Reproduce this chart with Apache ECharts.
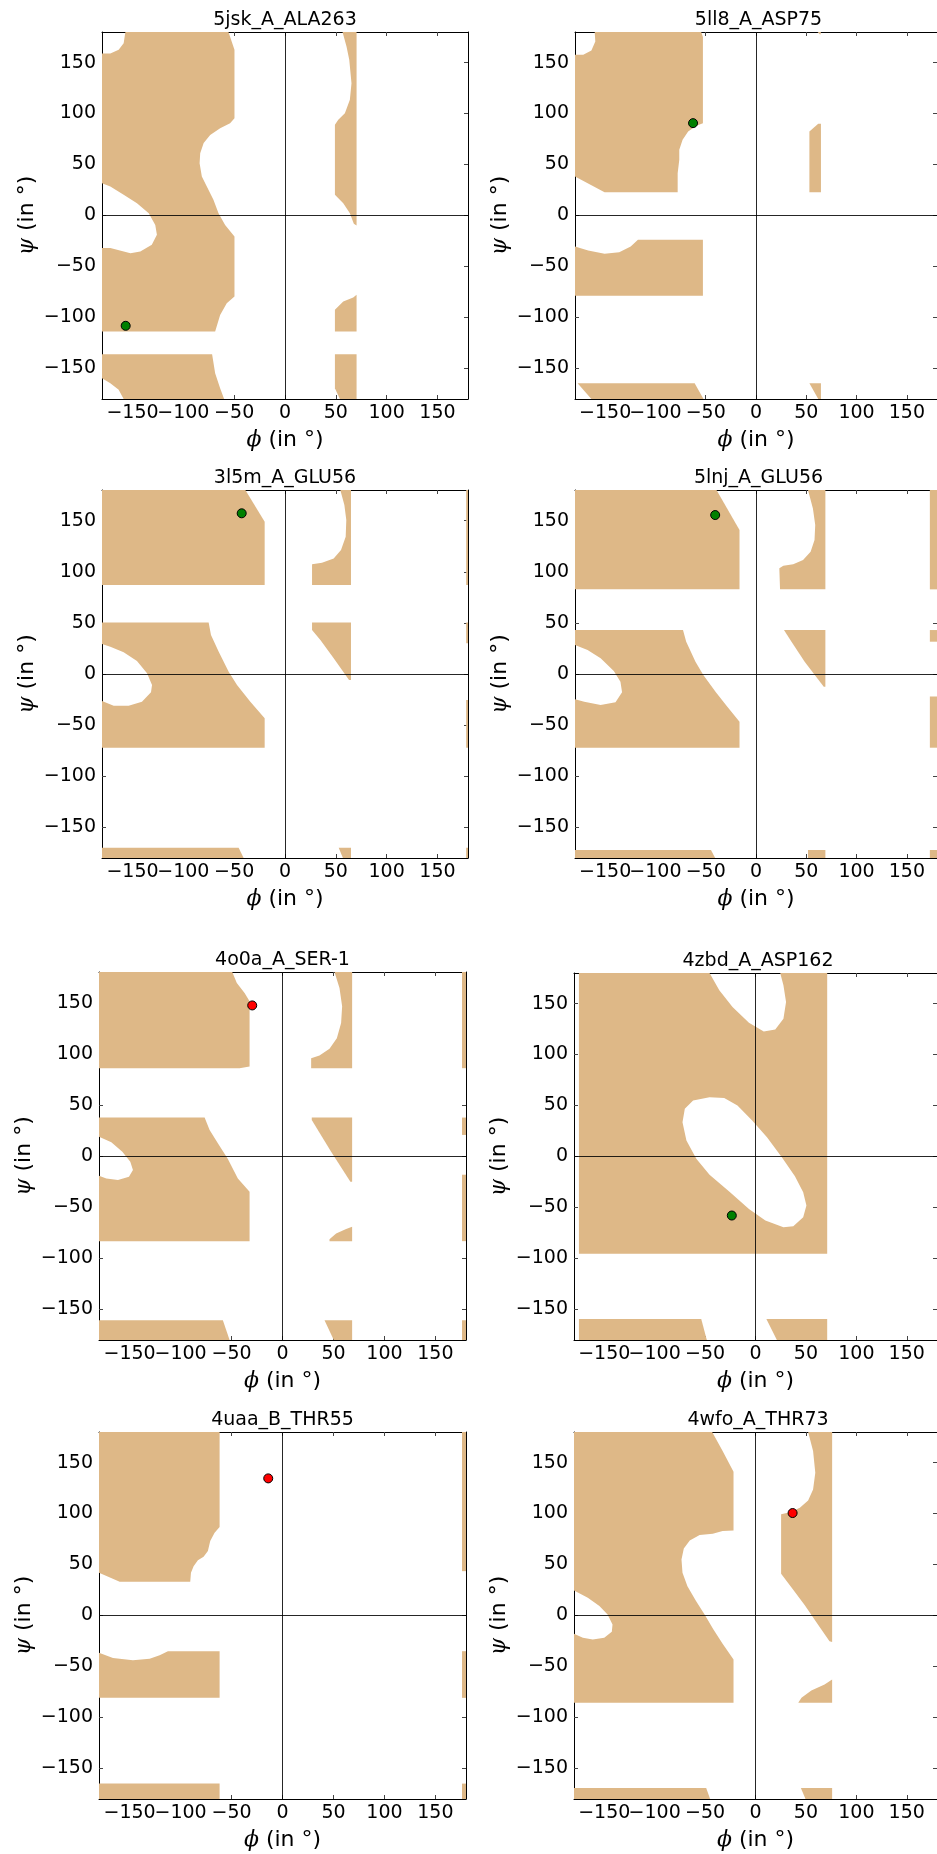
<!DOCTYPE html>
<html><head><meta charset="utf-8">
<script src="https://cdn.jsdelivr.net/npm/echarts@6/dist/echarts.min.js"></script>
<style>html,body{margin:0;padding:0;background:#fff}#c{width:937px;height:1854px}</style>
</head><body><div id="c"></div>
<script>
// ---------- data ----------
const titles = ['5jsk_A_ALA263','5ll8_A_ASP75','3l5m_A_GLU56','5lnj_A_GLU56','4o0a_A_SER-1','4zbd_A_ASP162','4uaa_B_THR55','4wfo_A_THR73'];
const pointPhi = [-156.7, -62.6, -42.6, -40.6, -29.7, -23.5, -14.0, 36.8];
const pointPsi = [-108.2, 90.6, 157.2, 155.5, 147.3, -57.9, 134.5, 100.5];
const pointAllowed = [true, true, true, true, false, true, false, false];
const tickValues = [-150,-100,-50,0,50,100,150];
const xLabelsMain = [-150,-50,0,50,100,150];
const xLabelsExtra = [-100];
const axisRange = [-180, 180];
const xName = '{g|ϕ} (in °)';
const yName = '{g|ψ} (in °)';

// allowed (phi, psi) regions, one list of polygons per panel
const regions5jsk = [
 [[-180,159],[-171.8,159],[-163.6,162.5],[-158.7,169],[-157,180],[-55.6,180],[-49.7,162.5],[-49.7,95.5],[-54,90.6],[-63.8,85.7],[-73.6,79],[-80,71],[-83.4,61],[-84,51.3],[-81.8,38.3],[-76.9,28.4],[-70.4,15.4],[-65.4,2.3],[-58.9,-9.2],[-49.7,-20.6],[-49.7,-79.5],[-57.3,-86],[-63.8,-97.5],[-68.7,-113.8],[-180,-113.8],[-180,-32],[-171.8,-32],[-152,-37],[-142.3,-35.3],[-131,-28.8],[-126,-19],[-127.6,-9.2],[-134,2.3],[-145.6,12.1],[-158.7,20.3],[-171.8,28.4],[-180,31.7]],
 [[-180,-136],[-71.7,-136],[-68.7,-154.7],[-63.8,-169.4],[-59.9,-180],[-158.7,-180],[-163.6,-171],[-171.8,-164.5],[-180,-159.6]],
 [[56.6,180],[70.4,180],[70.4,-9.8],[67.7,-8.2],[63.8,2.3],[57.3,12.1],[49.1,20.3],[49.1,89],[52.4,93.9],[58.9,100.4],[63.8,113.5],[65.4,129.8],[63.2,152.7],[60.5,165.8]],
 [[49.1,-92.5],[57.3,-84.4],[67.1,-80.4],[70.4,-77.8],[70.4,-113.8],[49.1,-113.8]],
 [[49.1,-136],[70.4,-136],[70.4,-180],[54,-180],[49.1,-169.4]]
];
const regions5ll8 = [
 [[-180,157.6],[-171.8,157.6],[-163.7,161.9],[-159.8,170.7],[-160.4,180],[-54.5,180],[-52.8,175],[-52.8,90.6],[-59.3,88],[-67.5,82.4],[-73,74.2],[-76.3,64.4],[-76.3,54.6],[-77.9,41.5],[-77.9,22.9],[-150.6,22.9],[-180,38.3]],
 [[-180,-30.4],[-166.9,-34.3],[-150.6,-37.6],[-136,-36],[-124.6,-30.4],[-117.4,-23.9],[-52.8,-23.9],[-52.8,-78.8],[-180,-78.8]],
 [[-177.4,-164.5],[-61,-164.5],[-52.2,-180],[-163.7,-180]],
 [[53.1,82.4],[61.9,89.9],[64.6,89.9],[64.6,22.9],[53.1,22.9]],
 [[61.3,180],[64.6,180],[63.9,177.2]],
 [[53.1,-164.5],[64.6,-164.5],[64.6,-180],[61.9,-180]]
];
const regions3l5m = [
 [[-180,180],[-39,180],[-20,149],[-20,87],[-180,87]],
 [[-180,50.5],[-75.1,50.5],[-72.8,38.1],[-65.2,21.8],[-55.4,2.3],[-47.2,-10.8],[-34.1,-27.1],[-20,-43.4],[-20,-72.1],[-180,-72.1],[-180,-26.4],[-168.5,-31],[-153.8,-31],[-140.7,-27.1],[-131.8,-17.9],[-130.8,-10.8],[-135.7,0.7],[-145.6,12.7],[-158.7,21.2],[-171.8,26.7],[-180,29.3]],
 [[-180,-169.9],[-45.6,-169.9],[-40.7,-180],[-180,-180]],
 [[54.4,180],[64.9,180],[64.9,87],[26.6,87],[26.6,107.3],[36.4,108.9],[47.9,113.1],[55.1,121.3],[59.7,134.3],[60.3,150.6],[58.4,165.3]],
 [[26.6,50.5],[64.9,50.5],[64.9,-5.9],[63,-5.9],[47.9,15.3],[34.8,33.3],[26.6,43]],
 [[52.8,-169.9],[64.9,-169.9],[64.9,-180],[57,-180]],
 [[178.2,180],[180,180],[180,87],[178.2,87]],
 [[178.2,50.5],[180,50.5],[180,30],[178.2,30]],
 [[178.2,-25.4],[180,-25.4],[180,-72.1],[178.2,-72.1]],
 [[178.2,-169.9],[180,-169.9],[180,-180],[178.2,-180]]
];
const regions5lnj = [
 [[-180,180],[-39.3,180],[-16.4,140.9],[-16.4,82.8],[-180,82.8]],
 [[-180,43],[-72.6,43],[-69.4,31.6],[-60.2,12.1],[-52.4,-1],[-39.9,-17.9],[-28.5,-32],[-16.4,-46.6],[-16.4,-72.1],[-180,-72.1],[-180,-24.8],[-170.8,-27.1],[-154.5,-30.3],[-139.7,-27.7],[-133.2,-17.9],[-134.8,-7.5],[-141.4,2.9],[-154.5,15.3],[-167.5,23.5],[-180,28.4]],
 [[-180,-172.2],[-44.8,-172.2],[-40.6,-180],[-180,-180]],
 [[51.7,180],[69,180],[69,82.8],[23.9,82.8],[23.2,103.4],[27.2,106],[37,107.3],[46.8,111.5],[54.3,119.7],[58.2,131.1],[58.9,145.7],[56.6,162]],
 [[27.8,43],[69,43],[69,-12.4],[67.4,-12.4],[48.4,12.1],[35.3,31.6]],
 [[51.7,-172.2],[69,-172.2],[69,-180],[51.7,-180]],
 [[172.9,180],[180,180],[180,82.8],[172.9,82.8]],
 [[172.9,43],[180,43],[180,31.6],[172.9,31.6]],
 [[172.9,-22],[180,-22],[180,-72.1],[172.9,-72.1]],
 [[172.9,-172.2],[180,-172.2],[180,-180],[172.9,-180]]
];
const regions4o0a = [
 [[-180,180],[-49.3,180],[-44.8,169.2],[-37.2,159.4],[-32.3,151.3],[-32.3,87.6],[-42.1,85.9],[-180,85.9]],
 [[-180,37.6],[-76.4,37.6],[-71.5,25.5],[-63.4,12.4],[-53.6,-2.9],[-43.8,-21.9],[-32.3,-35],[-32.3,-83.3],[-180,-83.3],[-180,-19.3],[-172.8,-21.9],[-161.4,-23.5],[-150.6,-20.3],[-146.7,-13.7],[-149.3,-5.6],[-157.1,4.2],[-167.9,13.4],[-180,18.9]],
 [[-180,-160.7],[-58.5,-160.7],[-51.9,-180],[-180,-180]],
 [[51,180],[68.3,180],[68.3,85.9],[28.1,85.9],[28.1,95.7],[36.3,98.3],[46.1,104.9],[53.3,115.3],[57.5,130],[58.5,146.4],[55.9,164.3]],
 [[28.7,37.6],[68.3,37.6],[68.3,-25.2],[66.6,-25.2],[47.7,4.2],[28.7,35.3]],
 [[46.1,-83.3],[68.3,-83.3],[68.3,-69.3],[62.4,-71.5],[52.6,-75.8],[46.1,-81.4]],
 [[41.2,-160.7],[68.3,-160.7],[68.3,-180],[50.3,-180]],
 [[176.1,180],[180,180],[180,85.9],[176.1,85.9]],
 [[176.1,37.6],[180,37.6],[180,20.6],[176.1,20.6]],
 [[176.1,-18.3],[180,-18.3],[180,-83.3],[176.1,-83.3]],
 [[176.1,-160.7],[180,-160.7],[180,-180],[176.1,-180]]
];
const regions4zbd = [
 [[-175.1,180],[-45.6,180],[-35.9,163],[-22.8,146.6],[-6.5,131.2],[8.2,122.7],[19.6,124.7],[27.7,135.1],[30.3,151.5],[27.7,167.9],[24.5,180],[71.1,180],[71.1,-95.5],[-175.1,-95.5]],
 [[-175.1,-159.4],[-53.8,-159.4],[-48.3,-180],[-175.1,-180]],
 [[10.8,-159.4],[71.1,-159.4],[71.1,-180],[21.2,-180]]
];
const holes4zbd = [
 [[-72.4,33.7],[-70.1,46.8],[-61.9,55],[-45.6,58.2],[-31,57.3],[-17.9,50.1],[-3.3,35.3],[11.4,19],[26.1,-0.7],[39.1,-19.3],[47.3,-35],[50.5,-48.1],[47.3,-59.6],[37.5,-68.4],[27.7,-69.4],[9.8,-62.8],[-6.5,-51.4],[-26.1,-34.4],[-45.6,-18],[-58.7,-2.3],[-68.5,15.7]]
];
const regions4uaa = [
 [[-180,180],[-61.7,180],[-61.7,86.7],[-66.6,81.2],[-70.9,73],[-73.2,63.2],[-77.4,57.6],[-83,54.3],[-87.2,48.4],[-89.8,41.9],[-90.5,33],[-159.7,33],[-180,41.9]],
 [[-180,-36.6],[-166.3,-41.6],[-146.7,-43.8],[-130.3,-42.5],[-120.5,-38.9],[-112.4,-35],[-61.7,-35],[-61.7,-80.8],[-180,-80.8]],
 [[-180,-164.9],[-61.7,-164.9],[-61.7,-180],[-180,-180]],
 [[176.1,180],[180,180],[180,43.5],[176.1,43.5]],
 [[176.1,-35],[180,-35],[180,-80.8],[176.1,-80.8]],
 [[176.1,-164.9],[180,-164.9],[180,-180],[176.1,-180]]
];
const regions4wfo = [
 [[-180,180],[-43,180],[-32.6,161.3],[-21.8,141],[-21.8,83.4],[-32.6,82.8],[-42.4,80.2],[-55.4,78.9],[-65.2,73.6],[-71.1,65.8],[-73.4,55],[-72.4,41.9],[-67.5,28.8],[-59.3,14.7],[-50.5,1],[-41.7,-13.7],[-32.6,-27.8],[-21.8,-43.2],[-21.8,-85.7],[-180,-85.7],[-180,-18],[-171.2,-21.9],[-161.4,-23.6],[-150,-21.9],[-142.5,-16],[-141.8,-8.8],[-146.7,1],[-154.8,9.2],[-166.3,17.3],[-180,24.5]],
 [[-180,-169.2],[-48.9,-169.2],[-45,-180],[-180,-180]],
 [[52.2,180],[76,180],[76,-25.9],[73.4,-25.2],[61.9,-8.8],[48.9,10.1],[35.9,27.2],[25.4,40.9],[25.4,99.2],[34.2,101.4],[44,105.7],[52.2,112.9],[57.1,123.7],[59.3,140],[57.1,161.3]],
 [[42.4,-85.7],[76,-85.7],[76,-62.8],[68.5,-67.7],[55.4,-73.6],[45.6,-80.8]],
 [[45,-169.2],[76,-169.2],[76,-180],[49.6,-180]]
];
const allowedRegions = [regions5jsk, regions5ll8, regions3l5m, regions5lnj, regions4o0a, regions4zbd, regions4uaa, regions4wfo];
const excludedHoles = [[], [], [], [], [], holes4zbd, [], []];

// ---------- layout & style ----------
const gridBoxes = [
 [102, 32, 366, 367], [575, 32, 367, 367],
 [102, 490, 366, 368], [575, 490, 367, 368],
 [99, 972, 367, 368], [574, 973, 368, 367],
 [99, 1432, 367, 367], [574, 1432, 368, 367]
];
const FONT = 'DejaVu Sans';
const TAN = '#deb887';

const fmt = v => (v < 0 ? '\u2212' + (-v) : String(v));
const grids = [], xAxes = [], yAxes = [], series = [], graphics = [];

function polySeries(i, polys, fill, z) {
  return {
    type: 'custom', coordinateSystem: 'cartesian2d', xAxisIndex: 3 * i, yAxisIndex: 2 * i,
    z: z, silent: true, clip: true, animation: false,
    data: polys.map(p => p[0]),
    renderItem: function (params, api) {
      const poly = polys[params.dataIndex];
      return { type: 'polygon', shape: { points: poly.map(pt => api.coord(pt)) }, style: { fill: fill, stroke: null } };
    }
  };
}

for (let i = 0; i < 8; i++) {
  const b = gridBoxes[i];
  grids.push({ left: b[0], top: b[1], width: b[2], height: b[3], containLabel: false });
  const base = {
    type: 'value', gridIndex: i, min: axisRange[0], max: axisRange[1],
    splitLine: { show: false },
    axisLine: { show: true, onZero: false, lineStyle: { color: '#000', width: 1 } },
    axisTick: { show: true, inside: true, length: 4, customValues: tickValues, lineStyle: { color: '#444', width: 1 } }
  };
  const lab = { show: true, formatter: fmt, fontSize: 19, fontFamily: FONT, color: '#000', hideOverlap: false };
  const nameStyle = { fontSize: 22, fontFamily: FONT, color: '#000', rich: { g: { fontSize: 22, fontFamily: 'DejaVu Serif', fontStyle: 'italic', color: '#000' } } };
  xAxes.push(Object.assign({}, base, { position: 'bottom', axisLabel: Object.assign({ margin: 5, customValues: xLabelsMain }, lab), name: xName, nameLocation: 'middle', nameGap: 30, nameTextStyle: nameStyle }));
  xAxes.push(Object.assign({}, base, { position: 'top', axisLabel: { show: false } }));
  xAxes.push(Object.assign({}, base, { position: 'bottom', offset: 0, axisLine: { show: false, onZero: false }, axisTick: { show: false }, axisLabel: Object.assign({ margin: 5, customValues: xLabelsExtra }, lab) }));
  yAxes.push(Object.assign({}, base, { position: 'left', axisLabel: Object.assign({ margin: 6, customValues: tickValues }, lab), name: yName, nameLocation: 'middle', nameGap: 64, nameTextStyle: nameStyle }));
  yAxes.push(Object.assign({}, base, { position: 'right', axisLabel: { show: false } }));

  series.push(polySeries(i, allowedRegions[i], TAN, 1));
  if (excludedHoles[i].length) series.push(polySeries(i, excludedHoles[i], '#ffffff', 2));
  series.push({
    type: 'scatter', xAxisIndex: 3 * i, yAxisIndex: 2 * i, z: 5, animation: false,
    data: [[pointPhi[i], pointPsi[i]]],
    symbol: 'circle', symbolSize: 9,
    itemStyle: { color: pointAllowed[i] ? '#008000' : '#ff0000', borderColor: '#000', borderWidth: 1, opacity: 1 },
    markLine: {
      silent: true, animation: false, symbol: ['none', 'none'], label: { show: false },
      lineStyle: { color: '#000', width: 1, type: 'solid', opacity: 0.85 },
      data: [{ xAxis: 0 }, { yAxis: 0 }]
    }
  });
  graphics.push({
    type: 'text', x: b[0] + b[2] / 2, y: b[1] - 12,
    style: { text: titles[i], fontSize: 19, fontFamily: FONT, fill: '#000', align: 'center', verticalAlign: 'middle' }
  });
}

const chart = echarts.init(document.getElementById('c'), null, { renderer: 'canvas', width: 937, height: 1854 });
chart.setOption({
  animation: false,
  backgroundColor: '#ffffff',
  grid: grids, xAxis: xAxes, yAxis: yAxes, series: series, graphic: graphics
});
</script>
</body></html>
